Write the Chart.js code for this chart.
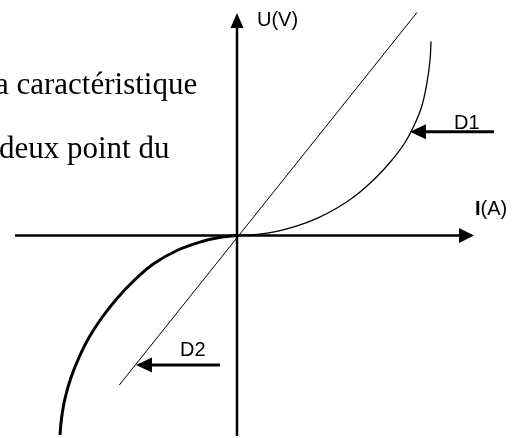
<!DOCTYPE html>
<html>
<head>
<meta charset="utf-8">
<script src="https://cdn.jsdelivr.net/npm/chart.js@4"></script>
<style>
  body { margin: 0; background: #fff; }
  #wrap { width: 524px; height: 438px; position: relative; }
</style>
</head>
<body>
<div id="wrap"><canvas id="chart"></canvas></div>
<script>
// courbe D1 (I > 0)
const d1I = [0, 20, 40, 60, 80, 100, 120, 140, 155, 168, 178, 185, 190, 193, 194];
const d1U = [0, 1.1, 4.2, 9.6, 17.2, 27.5, 41, 59, 75.5, 93, 112, 130, 153, 175, 194];
// courbe D2 (I < 0)
const d2I = [-177, -175.5, -172, -166, -158, -148, -135, -120, -103, -83, -60, -35, -15, 0];
const d2U = [-199.5, -183, -163, -142, -122, -102, -82, -63, -45, -28, -15, -6, -1.5, 0];
// droite
const lineI = [-117.7, 180];
const lineU = [-149.5, 223];

const axisLabels = ['I(A)', 'U(V)'];
const curveNames = ['D1', 'D2'];
const textLines = ['a caractéristique', 'deux point du'];

function pts(xs, ys) {
  return xs.map((x, i) => ({x: x, y: ys[i]}));
}

// dessin des axes, fleches et textes
const decor = {
  id: 'decor',
  afterDraw(chart) {
    const ctx = chart.ctx;
    const sx = chart.scales.x, sy = chart.scales.y;
    const px = v => sx.getPixelForValue(v);
    const py = v => sy.getPixelForValue(v);

    ctx.save();
    ctx.fillStyle = '#000';
    ctx.strokeStyle = '#000';

    // axes
    ctx.lineWidth = 2.5;
    ctx.beginPath();
    ctx.moveTo(px(-222), py(0));
    ctx.lineTo(px(225), py(0));
    ctx.moveTo(px(0), py(-200.5));
    ctx.lineTo(px(0), py(210));
    ctx.stroke();
    // pointes des axes
    ctx.beginPath();
    ctx.moveTo(px(237), py(0));
    ctx.lineTo(px(222), py(0) - 7.5);
    ctx.lineTo(px(222), py(0) + 7.5);
    ctx.closePath();
    ctx.moveTo(px(0), py(222.5));
    ctx.lineTo(px(0) - 6.5, py(207.5));
    ctx.lineTo(px(0) + 6.5, py(207.5));
    ctx.closePath();
    ctx.fill();

    // fleches D1 / D2
    function arrow(x0, x1, y) {
      ctx.lineWidth = 3;
      ctx.beginPath();
      ctx.moveTo(px(x0), py(y));
      ctx.lineTo(px(x1) + 14, py(y));
      ctx.stroke();
      ctx.beginPath();
      ctx.moveTo(px(x1), py(y));
      ctx.lineTo(px(x1) + 16, py(y) - 7.5);
      ctx.lineTo(px(x1) + 16, py(y) + 7.5);
      ctx.closePath();
      ctx.fill();
    }
    arrow(257, 173, 103.8);
    arrow(-17, -101, -129.5);

    const sans = '20px "Liberation Sans", Arial, sans-serif';
    ctx.font = sans;
    ctx.textBaseline = 'alphabetic';
    ctx.fillText(curveNames[0], px(217), py(106.5));
    ctx.fillText(curveNames[1], px(-57), py(-120.5));
    ctx.fillText(axisLabels[1], px(20), py(209.5));
    // I en gras
    ctx.font = 'bold ' + sans;
    ctx.fillText(axisLabels[0].charAt(0), px(238), py(20.5));
    const w = ctx.measureText(axisLabels[0].charAt(0)).width;
    ctx.font = sans;
    ctx.fillText(axisLabels[0].slice(1), px(238) + w, py(20.5));

    // texte du document
    ctx.font = '31px "Liberation Serif", "Times New Roman", serif';
    ctx.fillText(textLines[0], -5, 94);
    ctx.fillText(textLines[1], -1, 158);
    ctx.restore();
  }
};

new Chart(document.getElementById('chart'), {
  type: 'scatter',
  data: {
    datasets: [
      {label: 'droite', data: pts(lineI, lineU), showLine: true, borderColor: '#000', borderWidth: 1, pointRadius: 0},
      {label: 'D1', data: pts(d1I, d1U), showLine: true, borderColor: '#000', borderWidth: 1.3, pointRadius: 0, tension: 0.4},
      {label: 'D2', data: pts(d2I, d2U), showLine: true, borderColor: '#000', borderWidth: 3, pointRadius: 0, tension: 0.4}
    ]
  },
  options: {
    responsive: true,
    maintainAspectRatio: false,
    animation: false,
    layout: {padding: 0},
    plugins: {legend: {display: false}, tooltip: {enabled: false}},
    scales: {
      x: {type: 'linear', display: false, min: -237, max: 287},
      y: {type: 'linear', display: false, min: -202.5, max: 235.5}
    }
  },
  plugins: [decor]
});
</script>
</body>
</html>
